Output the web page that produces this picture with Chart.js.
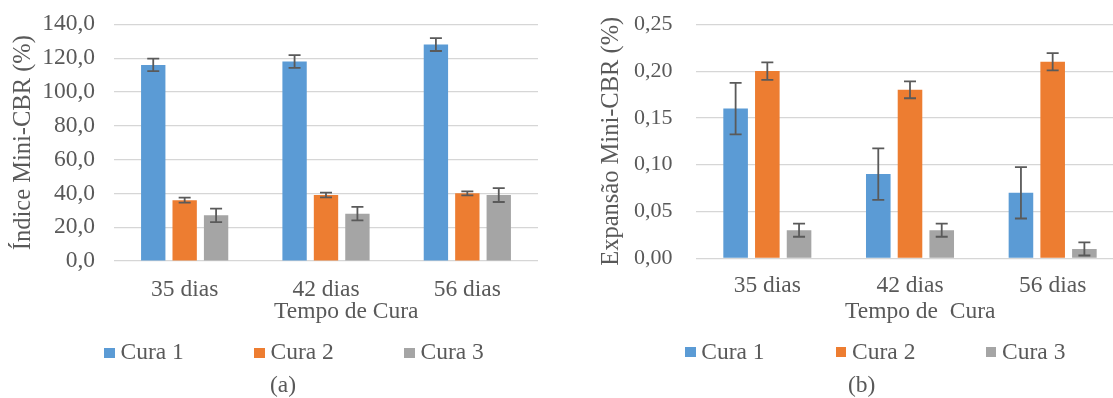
<!DOCTYPE html>
<html>
<head>
<meta charset="utf-8">
<script src="https://cdn.jsdelivr.net/npm/chart.js@4"></script>
<style>
  html, body { margin: 0; padding: 0; background: #fff; overflow: hidden; width: 1113px; height: 398px; }
  #wrap { position: relative; width: 1113px; height: 398px; overflow: hidden;
          font-family: "Liberation Serif", "Times New Roman", serif; color: #595959; }
  .cv { position: absolute; top: 0; }
  .txt { position: absolute; font-size: 23.5px; line-height: 23.5px; white-space: pre; }
  .box { position: absolute; width: 10.5px; height: 10.5px; }
</style>
</head>
<body>
<div id="wrap">
  <div class="cv" style="left:0px"><canvas id="chartCbr" width="555" height="398"></canvas></div>
  <div class="cv" style="left:555px"><canvas id="chartExp" width="580" height="398"></canvas></div>

  <!-- x-axis titles -->
  <div class="txt" style="left:274px;top:298.8px">Tempo de Cura</div>
  <div class="txt" style="left:845px;top:299.3px">Tempo de  Cura</div>

  <!-- legends -->
  <div id="legendCbr"></div>
  <div id="legendExp"></div>

  <!-- panel captions -->
  <div class="txt" style="left:270px;top:372.8px">(a)</div>
  <div class="txt" style="left:848px;top:372.8px">(b)</div>
</div>

<script>
// Curing times and curing procedures
const categories = ['35 dias', '42 dias', '56 dias'];
const seriesNames = ['Cura 1', 'Cura 2', 'Cura 3'];
const seriesColors = ['#5B9BD5', '#ED7D31', '#A5A5A5'];

// Índice Mini-CBR (%) and its error margins
const cbrCura1 = [116, 118, 128];
const cbrCura2 = [36, 39, 40];
const cbrCura3 = [27, 28, 39];
const cbrErr1 = [3.7, 3.8, 3.8];
const cbrErr2 = [1.5, 1.4, 1.2];
const cbrErr3 = [4.0, 4.0, 4.1];

// Expansão Mini-CBR (%) and its error margins
const expCura1 = [0.16, 0.09, 0.07];
const expCura2 = [0.20, 0.18, 0.21];
const expCura3 = [0.03, 0.03, 0.01];
const expErr1 = [0.0275, 0.0275, 0.0275];
const expErr2 = [0.0093, 0.009, 0.0093];
const expErr3 = [0.007, 0.007, 0.007];

// Axis ranges
const cbrAxis = { min: 0, max: 140, step: 20, decimals: 1 };
const expAxis = { min: 0, max: 0.25, step: 0.05, decimals: 2 };

const TEXT = '#595959';
const FONT = '"Liberation Serif", "Times New Roman", serif';

// Draws symmetric error bars on top of each bar, using the y scale of the chart
const errorBars = {
  id: 'errorBars',
  afterDatasetsDraw(chart) {
    const ctx = chart.ctx;
    const y = chart.scales.y;
    ctx.save();
    ctx.strokeStyle = '#5a5a5a';
    ctx.lineWidth = 1.8;
    chart.data.datasets.forEach((ds, i) => {
      const meta = chart.getDatasetMeta(i);
      meta.data.forEach((bar, j) => {
        const v = ds.data[j], e = ds.errors[j];
        const x = bar.x;
        const yt = y.getPixelForValue(v + e);
        const yb = y.getPixelForValue(v - e);
        ctx.beginPath();
        ctx.moveTo(x, yt); ctx.lineTo(x, yb);
        ctx.moveTo(x - 6, yt); ctx.lineTo(x + 6, yt);
        ctx.moveTo(x - 6, yb); ctx.lineTo(x + 6, yb);
        ctx.stroke();
      });
    });
    ctx.restore();
  }
};

function makeDatasets(values, errors) {
  return values.map((vals, i) => ({
    label: seriesNames[i],
    data: vals,
    errors: errors[i],
    backgroundColor: seriesColors[i],
    borderWidth: 0,
    categoryPercentage: 0.667,
    barPercentage: 0.775
  }));
}

function makeChart(id, datasets, axis, geo) {
  const chart = new Chart(document.getElementById(id), {
    type: 'bar',
    data: { labels: categories, datasets },
    plugins: [errorBars],
    options: {
      responsive: false,
      animation: false,
      layout: {
        autoPadding: false,
        padding: { left: 0, right: 10, top: 24, bottom: 100 }
      },
      plugins: { legend: { display: false }, tooltip: { enabled: false } },
      scales: {
        x: {
          grid: { display: false, drawTicks: false },
          border: { display: false },
          ticks: { color: TEXT, padding: geo.xPad, font: { family: FONT, size: 23.5, lineHeight: 1 } },
          afterFit(s) { s.height = 40; }
        },
        y: {
          min: axis.min, max: axis.max,
          // the gap between labels and plot comes from an invisible tick mark
          grid: { color: '#d6d6d6', lineWidth: 1.2, drawTicks: true, tickLength: geo.yGap, tickColor: 'rgba(0,0,0,0)' },
          border: { display: false },
          ticks: {
            stepSize: axis.step,
            color: TEXT,
            padding: 0,
            font: { family: FONT, size: geo.yFont, lineHeight: 1 },
            callback: v => Number(v).toFixed(axis.decimals).replace('.', ',')
          },
          title: {
            display: true,
            text: geo.yTitle,
            color: TEXT,
            font: { family: FONT, size: 24.5, lineHeight: 1 },
            padding: { top: geo.titlePad, bottom: 0 }
          },
          afterFit(s) { s.width = geo.yWidth; }
        }
      }
    }
  });
  // settle the plot area on the wanted frame
  for (let k = 0; k < 3; k++) {
    const a = chart.chartArea;
    const p = Object.assign({}, chart.config.options.layout.padding);
    p.top += geo.top - a.top;
    p.bottom += a.bottom - geo.bottom;
    p.right += a.right - geo.right;
    chart.config.options.layout.padding = p;
    chart.update();
  }
  return chart;
}

makeChart('chartCbr',
  makeDatasets([cbrCura1, cbrCura2, cbrCura3], [cbrErr1, cbrErr2, cbrErr3]),
  cbrAxis,
  { top: 24.3, bottom: 261, right: 538, yWidth: 114, yGap: 19, yFont: 23.5, xPad: 17, titlePad: 11.75,
    yTitle: 'Índice Mini-CBR (%)' });

makeChart('chartExp',
  makeDatasets([expCura1, expCura2, expCura3], [expErr1, expErr2, expErr3]),
  expAxis,
  { top: 24.3, bottom: 258.3, right: 569, yWidth: 141, yGap: 23.6, yFont: 22, xPad: 16, titlePad: 44.75,
    yTitle: 'Expansão Mini-CBR (%)' });

// HTML legends
function buildLegend(elId, boxLefts, boxTop) {
  const el = document.getElementById(elId);
  seriesNames.forEach((name, i) => {
    const b = document.createElement('div');
    b.className = 'box';
    b.style.left = boxLefts[i] + 'px';
    b.style.top = boxTop + 'px';
    b.style.background = seriesColors[i];
    el.appendChild(b);
    const t = document.createElement('div');
    t.className = 'txt';
    t.style.left = (boxLefts[i] + 16.3) + 'px';
    t.style.top = '340.3px';
    t.textContent = name;
    el.appendChild(t);
  });
}
buildLegend('legendCbr', [104.2, 254.2, 404.2], 347.5);
buildLegend('legendExp', [685, 835.8, 985.8], 346.5);
</script>
</body>
</html>
